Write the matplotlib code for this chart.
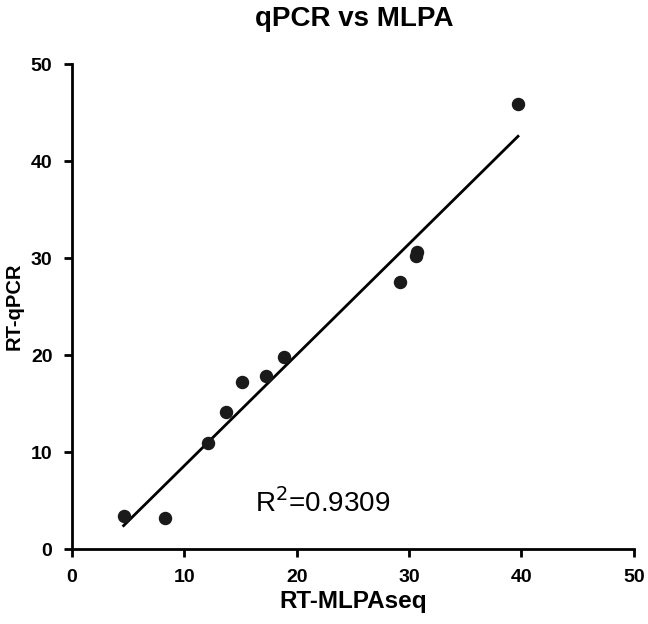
import numpy as np
import matplotlib
matplotlib.use("Agg")
import matplotlib.pyplot as plt

plt.rcParams['font.family'] = ['Liberation Sans', 'DejaVu Sans']

rt_mlpaseq = [4.6, 8.3, 12.1, 13.7, 15.15, 17.3, 18.9, 29.2, 30.6, 30.7, 39.7]
rt_qpcr = [3.4, 3.2, 10.9, 14.1, 17.2, 17.9, 19.8, 27.5, 30.2, 30.6, 45.9]
r2_text = "R$^2$=0.9309"
ticks = [0, 10, 20, 30, 40, 50]

fig = plt.figure(figsize=(6.48, 6.24), dpi=100)
ax = fig.add_axes([0.111, 0.120, 0.867, 0.777])

x = np.array(rt_mlpaseq)
y = np.array(rt_qpcr)
slope, intercept = np.polyfit(x, y, 1)
xl = np.array([x.min(), x.max()])
ax.plot(xl, slope * xl + intercept, color='black', lw=2)
ax.scatter(x, y, s=75, color='#1a1a1a', zorder=3)

ax.set_xlim(0, 50)
ax.set_ylim(0, 50)
ax.set_xticks(ticks)
ax.set_yticks(ticks)
ax.set_xticklabels([str(t) for t in ticks], fontsize=14, fontweight='bold')
ax.set_yticklabels([str(t) for t in ticks], fontsize=14, fontweight='bold')
ax.tick_params(direction='out', length=6, width=2, pad=8)
for s in ['top', 'right']:
    ax.spines[s].set_visible(False)
for s in ['left', 'bottom']:
    ax.spines[s].set_linewidth(2)
ax.set_xlabel('RT-MLPAseq', fontsize=17.5, fontweight='bold', labelpad=3)
ax.set_ylabel('RT-qPCR', fontsize=14.5, fontweight='bold', labelpad=5)
fig.text(0.546, 0.969, 'qPCR vs MLPA', fontsize=20, fontweight='bold',
         ha='center', va='center')
ax.text(16.3, 4.7, r2_text, fontsize=20, va='center', ha='left')

fig.savefig('out.png', dpi=100)
